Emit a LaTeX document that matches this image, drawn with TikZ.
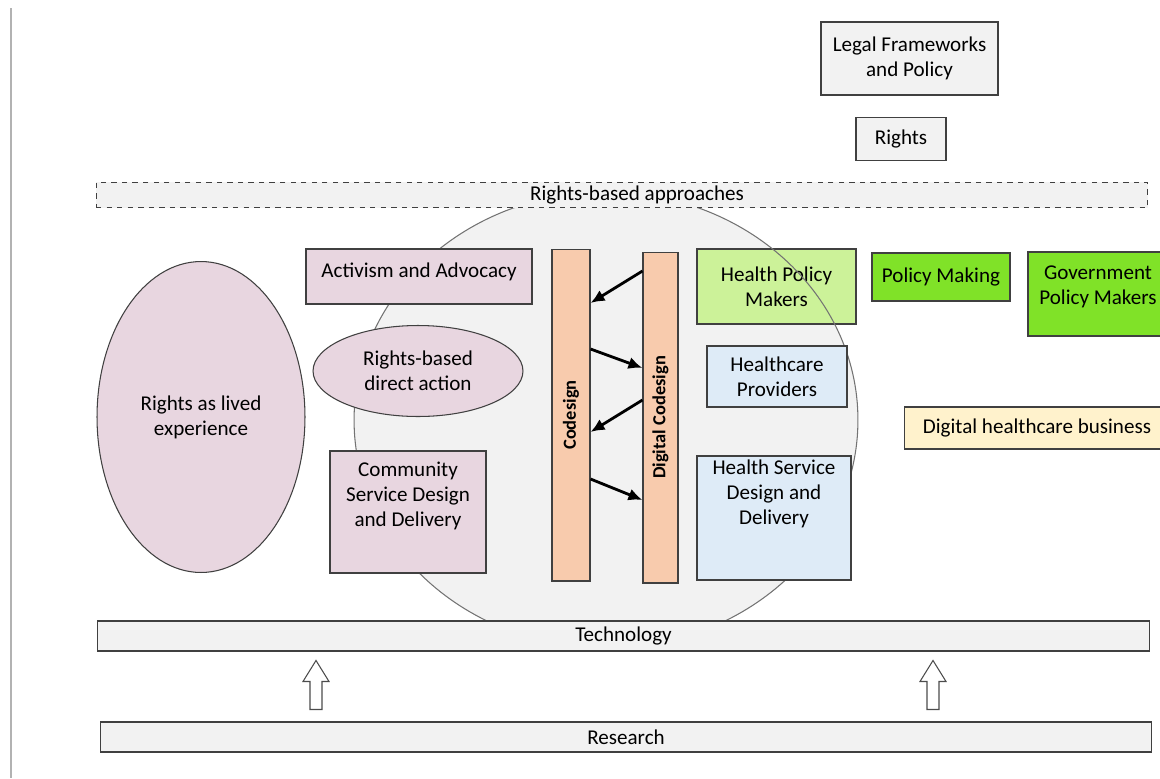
\documentclass[tikz,border=0pt]{standalone}
\usepackage{fontspec}
\setmainfont{Carlito}
\usepackage{graphicx}
\usetikzlibrary{positioning, shapes.geometric, arrows.meta}

\definecolor{panel}{RGB}{242,242,242}
\definecolor{lilac}{RGB}{232,214,224}
\definecolor{peach}{RGB}{248,203,173}
\definecolor{sprout}{RGB}{204,242,153}
\definecolor{lime}{RGB}{128,226,40}
\definecolor{paleblue}{RGB}{222,235,247}
\definecolor{cream}{RGB}{255,242,204}

\begin{document}
\begin{tikzpicture}[x=0.02cm, y=-0.02cm, line width=0.6pt,
font=\fontsize{12}{14.3}\selectfont,
box/.style={rectangle, draw=black!75, align=center, inner sep=2pt},
grey/.style={box, fill=panel},
mauve/.style={box, fill=lilac},
blob/.style={ellipse, draw=black!75, fill=lilac, align=center, inner sep=0pt},
bar/.style={box, fill=peach, font=\fontsize{10.5}{12}\selectfont\bfseries},
pale/.style={box, fill=paleblue},
push/.style={-{Latex[length=8pt,width=7pt]}, line width=1.6pt},
hollow/.style={draw=black!70, fill=white, line width=0.6pt}]
\useasboundingbox (0,0) rectangle (1160,778);
\clip (0,0) rectangle (1160,778);
\draw[black!30, line width=0.6pt] (11,8) -- (11,778);

% the shared ground
\node[ellipse, fill=panel, minimum width=10.08cm, minimum height=9.12cm, inner sep=0pt] (arena) at (606,420) {};
\node[box, fill=sprout, minimum width=3.18cm, minimum height=1.5cm] (hpm) at (776.5,286.5) {Health Policy\\Makers};
\draw[black!55] (arena.center) ellipse [x radius=5.04cm, y radius=4.56cm];

% bands
\node[grey, dashed, minimum width=21.04cm, minimum height=0.48cm] (approach) at (622,195) {\hspace*{0.6cm}Rights-based approaches};
\node[grey, minimum width=21.06cm, minimum height=0.6cm] (tech) at (623.5,636) {Technology};
\node[grey, minimum width=21.04cm, minimum height=0.6cm] (research) at (626,737) {Research};
\foreach \x/\n in {316/1, 933/2} {
  \path (\x,0) coordinate (col\n);
  \draw[hollow] (research.north -| col\n) ++(-6,-12) -- ++(0,-28) -- ++(-7,0) -- ++(13,-21)
    -- ++(13,21) -- ++(-7,0) -- ++(0,28) -- cycle;
}

% top
\node[grey, minimum width=3.54cm, minimum height=1.46cm] (legal) at (909.5,58.5) {Legal Frameworks\\and Policy};
\node[grey, minimum width=1.8cm, minimum height=0.86cm, below=0.42cm of legal, xshift=-0.17cm] (rights) {Rights};

% community side
\node[blob, minimum width=4.16cm, minimum height=6.22cm] (lived) at (201,417) {Rights as lived\\experience};
\node[mauve, minimum width=4.52cm, minimum height=1.1cm, text depth=7pt] (activism) at (419,276.5) {Activism and Advocacy};
\node[blob, minimum width=4.2cm, minimum height=1.82cm] (direct) at (418,371) {Rights-based\\direct action};
\node[mauve, minimum width=3.12cm, minimum height=2.44cm, text depth=20pt] (community) at (408,512) {Community\\Service Design\\and Delivery};

% codesign
\node[bar, minimum width=0.76cm, minimum height=6.64cm] (cod) at (571,415) {\rotatebox{90}{Codesign}};
\node[bar, minimum width=0.7cm, minimum height=6.62cm] (dig) at (660.5,417.5) {\rotatebox{90}{Digital Codesign}};
\path[push] (dig.west |- 0,271) edge (cod.east |- 0,303)
            (cod.east |- 0,349) edge (dig.west |- 0,368)
            (dig.west |- 0,400) edge (cod.east |- 0,432)
            (cod.east |- 0,479) edge (dig.west |- 0,500);

% health side
\node[box, fill=lime, minimum width=2.76cm, minimum height=0.96cm] (making) at (941,277) {Policy Making};
\node[box, fill=lime, minimum width=2.8cm, minimum height=1.68cm, text depth=10pt] (govt) at (1098,294) {Government\\Policy Makers};
\node[pale, minimum width=2.8cm, minimum height=1.22cm] (providers) at (777,376.5) {Healthcare\\Providers};
\node[pale, minimum width=3.08cm, minimum height=2.48cm, text depth=29pt] (service) at (774,518) {Health Service\\Design and\\Delivery};
\node[box, fill=cream, minimum width=5.32cm, minimum height=0.84cm] (business) at (1037,428) {Digital healthcare business};
\end{tikzpicture}
\end{document}
